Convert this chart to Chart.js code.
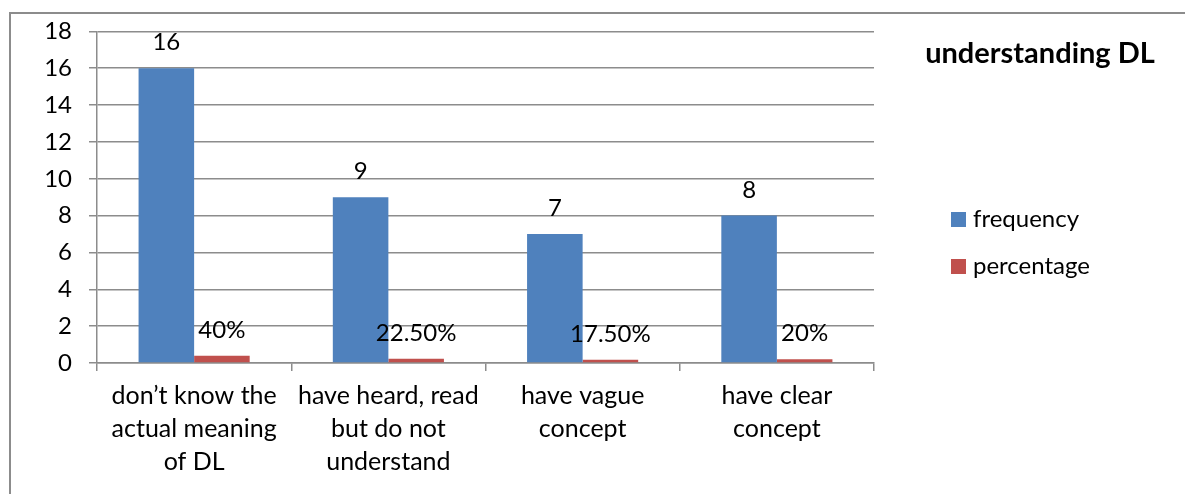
<!DOCTYPE html>
<html>
<head>
<meta charset="utf-8">
<script src="https://cdn.jsdelivr.net/npm/chart.js@4/dist/chart.umd.min.js"></script>
<style>
    html, body { margin: 0; padding: 0; background: #fff; }
    #wrap { position: relative; width: 1185px; height: 494px; }
    #frame {
        position: absolute; left: 9px; top: 12px; right: 0; bottom: 0;
        border-top: 2px solid #8c8c8c; border-left: 2px solid #8c8c8c;
        pointer-events: none;
    }
    canvas { position: absolute; left: 0; top: 0; }
</style>
</head>
<body>
<div id="wrap">
    <canvas id="dlChart" width="1185" height="494"></canvas>
    <div id="frame"></div>
</div>
<script>
const categories = [
    ['don’t know the', 'actual meaning', 'of DL'],
    ['have heard, read', 'but do not', 'understand'],
    ['have vague', 'concept'],
    ['have clear', 'concept']
];
const frequency = [16, 9, 7, 8];
const percentage = [0.4, 0.225, 0.175, 0.2];
const yTicks = [0, 2, 4, 6, 8, 10, 12, 14, 16, 18];

const FONT = 'Lato, "Open Sans", sans-serif';
const gridColor = '#8c8c8c';

// percentages print as "40%" when whole, otherwise with two decimals
function formatValue(dsIndex, v) {
    if (dsIndex === 0) return String(v);
    const p = v * 100;
    return Number.isInteger(Math.round(p * 1000) / 1000) ? `${Math.round(p)}%` : `${p.toFixed(2)}%`;
}

// value labels above each bar
const valueLabels = {
    id: 'valueLabels',
    afterDatasetsDraw(chart) {
        const ctx = chart.ctx;
        ctx.save();
        ctx.font = `24px ${FONT}`;
        ctx.fillStyle = '#000';
        ctx.textAlign = 'center';
        ctx.textBaseline = 'alphabetic';
        chart.data.datasets.forEach((ds, i) => {
            chart.getDatasetMeta(i).data.forEach((bar, j) => {
                ctx.fillText(formatValue(i, ds.data[j]), bar.x, bar.y - 18);
            });
        });
        ctx.restore();
    }
};

// title and legend sit in the right-hand margin
const sidePanel = {
    id: 'sidePanel',
    afterDraw(chart) {
        const ctx = chart.ctx;
        ctx.save();
        ctx.fillStyle = '#000';
        ctx.font = `bold 29px ${FONT}`;
        ctx.textAlign = 'center';
        ctx.textBaseline = 'alphabetic';
        ctx.fillText('understanding DL', 1040, 63);

        ctx.font = `24px ${FONT}`;
        ctx.textAlign = 'left';
        ctx.textBaseline = 'middle';
        chart.data.datasets.forEach((ds, i) => {
            const cy = 219.5 + i * 47;
            ctx.fillStyle = ds.backgroundColor;
            ctx.fillRect(951, cy - 7.5, 15, 15);
            ctx.fillStyle = '#000';
            ctx.fillText(ds.label, 973, cy);
        });
        ctx.restore();
    }
};

new Chart(document.getElementById('dlChart'), {
    type: 'bar',
    data: {
        labels: categories,
        datasets: [
            { label: 'frequency', data: frequency, backgroundColor: '#4F81BD' },
            { label: 'percentage', data: percentage, backgroundColor: '#C0504D' }
        ]
    },
    options: {
        responsive: false,
        animation: false,
        devicePixelRatio: 1,
        layout: { padding: { left: 0, top: 28, right: 311, bottom: 0 } },
        datasets: {
            bar: { categoryPercentage: 0.572, barPercentage: 1 }
        },
        plugins: {
            legend: { display: false },
            title: { display: false },
            tooltip: { enabled: false }
        },
        scales: {
            x: {
                afterFit(scale) { scale.height = 131; },
                grid: {
                    offset: true,
                    drawOnChartArea: false,
                    drawTicks: true,
                    tickLength: 8,
                    color: gridColor,
                    lineWidth: 1.5
                },
                border: { display: true, color: gridColor, width: 1.5 },
                ticks: {
                    color: '#000',
                    padding: 8,
                    maxRotation: 0,
                    autoSkip: false,
                    font: { family: FONT, size: 25, lineHeight: 1.32 }
                }
            },
            y: {
                min: 0,
                max: 18,
                afterFit(scale) { scale.width = 97; },
                afterBuildTicks(scale) { scale.ticks = yTicks.map(v => ({ value: v })); },
                grid: {
                    color: gridColor,
                    lineWidth: 1.5,
                    drawTicks: true,
                    tickLength: 8
                },
                border: { display: true, color: gridColor, width: 1.5 },
                ticks: {
                    color: '#000',
                    padding: 17,
                    font: { family: FONT, size: 24 }
                }
            }
        }
    },
    plugins: [valueLabels, sidePanel]
});
</script>
</body>
</html>
